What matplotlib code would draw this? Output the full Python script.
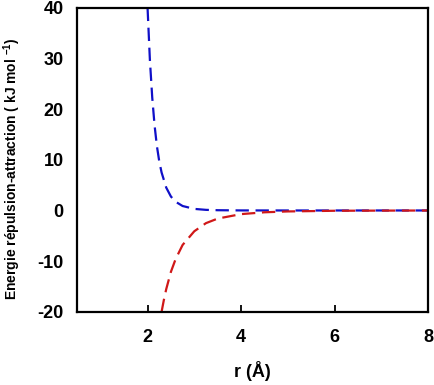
import matplotlib
matplotlib.use('Agg')
import matplotlib.pyplot as plt

# Repulsion energy (blue)
r_rep = [2.00, 2.05, 2.10, 2.15, 2.20, 2.25, 2.30, 2.40, 2.50, 2.60, 2.75, 3.00, 3.25, 3.50, 4.00, 5.00, 6.00, 7.00, 8.00]
e_rep = [40.0, 29.7, 22.3, 16.8, 12.7, 9.7, 7.5, 4.5, 2.75, 1.72, 0.88, 0.31, 0.12, 0.05, 0.01, 0.0, 0.0, 0.0, 0.0]

# Attraction energy (red)
r_att = [2.30, 2.35, 2.40, 2.50, 2.60, 2.75, 3.00, 3.25, 3.50, 4.00, 4.50, 5.00, 6.00, 7.00, 8.00]
e_att = [-20.0, -17.6, -15.5, -12.1, -9.6, -6.8, -4.1, -2.5, -1.6, -0.72, -0.36, -0.19, -0.06, -0.03, -0.01]

x_ticks = [2, 4, 6, 8]
y_ticks = [-20, -10, 0, 10, 20, 30, 40]

plt.rcParams['font.family'] = ['Liberation Sans', 'DejaVu Sans']
plt.rcParams['axes.unicode_minus'] = False
plt.rcParams['mathtext.fontset'] = 'custom'
plt.rcParams['mathtext.bf'] = 'Liberation Sans:bold'

fig = plt.figure(figsize=(4.35, 3.85), dpi=100)
ax = fig.add_axes([0.178, 0.19, 0.806, 0.79])

ax.plot(r_rep, e_rep, color='#1010C8', linewidth=1.6, linestyle=(0, (6, 3)))
ax.plot(r_att, e_att, color='#D01818', linewidth=1.6, linestyle=(0, (6, 3)))

ax.set_xlim(0.5, 8)
ax.set_ylim(-20, 40)
ax.set_xticks(x_ticks)
ax.set_yticks(y_ticks)
ax.tick_params(axis='x', direction='in', length=5, width=1.3, pad=12, labelsize=13)
ax.tick_params(axis='y', length=0, pad=10, labelsize=13)
for lab in ax.get_xticklabels() + ax.get_yticklabels():
    lab.set_fontweight('bold')
for s in ax.spines.values():
    s.set_linewidth(1.6)

ax.set_xlabel('r (Å)', fontsize=13, fontweight='bold', labelpad=11)
ax.set_ylabel(r'Energie répulsion-attraction ( kJ mol $^{\mathbf{-1}}$)', fontsize=10, fontweight='bold')
ax.yaxis.set_label_coords(-0.155, 0.47)

plt.savefig('out.png', dpi=100)
plt.close()
